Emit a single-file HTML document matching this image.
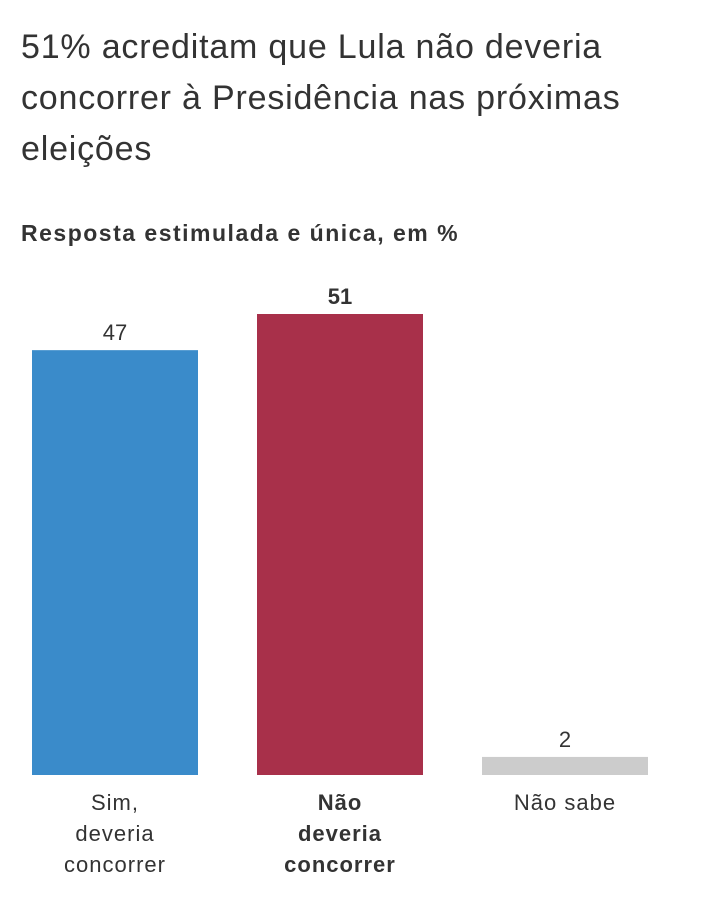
<!DOCTYPE html>
<html><head><meta charset="utf-8"><style>
body{margin:0;background:#fff;width:720px;height:923px;overflow:hidden;font-family:"Liberation Sans",sans-serif;color:#333}
#title{position:absolute;left:21px;top:22px;width:700px;font-size:34px;line-height:51px;color:#333;margin:0;font-weight:normal;letter-spacing:0.8px;white-space:nowrap}
#sub{position:absolute;left:21px;top:220px;font-size:23px;font-weight:bold;color:#333;margin:0;letter-spacing:1.5px;white-space:nowrap}
</style></head><body>
<h1 id="title">51% acreditam que Lula não deveria<br>concorrer à Presidência nas próximas<br>eleições</h1>
<h2 id="sub">Resposta estimulada e única, em %</h2>
<svg id="chart" width="720" height="923" style="position:absolute;left:0;top:0"></svg>
<script>
const categories=[["Sim,","deveria","concorrer"],["Não","deveria","concorrer"],["Não sabe"]];
const values=[47,51,2];
const colors=["#3a8bca","#a8304a","#cccccc"];
const bolds=[false,true,false];
const svg=document.getElementById('chart');
const NS='http://www.w3.org/2000/svg';
const base=775, scale=461/51;
const y=v=>base-v*scale;
const x=i=>32+i*225;
const bw=166;
values.forEach((v,i)=>{
  const r=document.createElementNS(NS,'rect');
  r.setAttribute('x',x(i));r.setAttribute('y',y(v));
  r.setAttribute('width',bw);r.setAttribute('height',base-y(v));
  r.setAttribute('fill',colors[i]);
  
  
  svg.appendChild(r);
  const t=document.createElementNS(NS,'text');
  t.setAttribute('x',x(i)+bw/2);t.setAttribute('y',y(v)-10);
  t.setAttribute('text-anchor','middle');t.setAttribute('font-size','22');
  t.setAttribute('fill','#333');
  if(bolds[i])t.setAttribute('font-weight','bold');
  t.textContent=v;
  
  
  svg.appendChild(t);
  categories[i].forEach((line,j)=>{
    const c=document.createElementNS(NS,'text');
    c.setAttribute('x',x(i)+bw/2);c.setAttribute('y',810+j*31);
    c.setAttribute('text-anchor','middle');c.setAttribute('font-size','22');
    c.setAttribute('letter-spacing','1');
    c.setAttribute('fill','#333');
    if(bolds[i])c.setAttribute('font-weight','bold');
    c.textContent=line;
    
    
    svg.appendChild(c);
  });
});
</script>
</body></html>
